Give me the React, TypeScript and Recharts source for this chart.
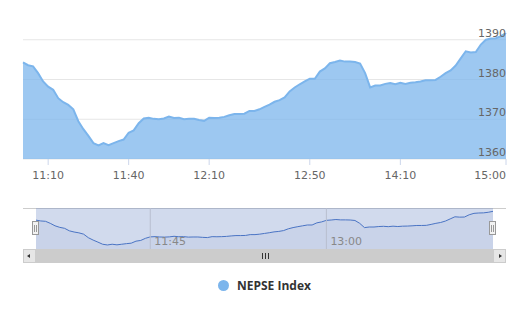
import { AreaChart, Area, XAxis, YAxis, CartesianGrid, ReferenceLine, ReferenceArea } from "recharts"

const seriesName = "NEPSE Index"

// index values, left to right (ordinal time axis)
const nepseValues = [
  1384.3, 1383.6, 1383.3, 1381.6, 1379.5, 1378.2, 1377.4, 1375.3, 1374.3, 1373.6,
  1372.5, 1369.5, 1367.5, 1365.8, 1364.0, 1363.4, 1364.0, 1363.5, 1364.0, 1364.5,
  1364.9, 1366.6, 1367.2, 1369.0, 1370.2, 1370.4, 1370.1, 1370.0, 1370.2, 1370.7,
  1370.3, 1370.4, 1370.0, 1370.1, 1370.1, 1369.8, 1369.6, 1370.4, 1370.3, 1370.4,
  1370.6, 1371.0, 1371.3, 1371.3, 1371.4, 1372.1, 1372.1, 1372.5, 1373.1, 1373.7,
  1374.4, 1374.8, 1375.5, 1377.0, 1378.0, 1378.8, 1379.5, 1380.2, 1380.2, 1382.0,
  1382.8, 1384.1, 1384.4, 1384.8, 1384.5, 1384.5, 1384.4, 1384.0, 1381.6, 1378.0,
  1378.5, 1378.5, 1378.9, 1379.1, 1378.8, 1379.2, 1378.9, 1379.2, 1379.3, 1379.5,
  1379.8, 1379.8, 1379.9, 1380.7, 1381.6, 1382.3, 1383.5, 1385.3, 1387.1, 1386.8,
  1386.9, 1388.8, 1390.0, 1390.3, 1390.4, 1390.9, 1391.7,
]

const xTickIdx = [5, 21, 37, 57, 75, 96]
const xTickLabels = ["11:10", "11:40", "12:10", "12:50", "14:10", "15:00"]
const yTicks = [1360, 1370, 1380, 1390]
const yMin = 1360
const yMax = 1391.7
const navTickIdx = [24, 61]
const navTickLabels = ["11:45", "13:00"]

const data = nepseValues.map((v, i) => ({ i, v }))
const lastIdx = nepseValues.length - 1

const axisFont = "'DejaVu Sans', sans-serif"

function XTick(props: any) {
  const { x, y, payload } = props
  const k = xTickIdx.indexOf(payload.value)
  const isLast = payload.value === lastIdx
  return (
    <text x={x} y={y + 12} textAnchor={isLast ? "end" : "middle"} fill="#666" fontSize={11} fontFamily={axisFont}>
      {xTickLabels[k]}
    </text>
  )
}

function YTick(props: any) {
  const { y, payload } = props
  return (
    <text x={506} y={y - 3} textAnchor="end" fill="#666" fontSize={11} fontFamily={axisFont}>
      {payload.value}
    </text>
  )
}

// grid only at the value ticks, no line at the plot's top edge
function gridRows({ offset }: any) {
  return yTicks.map((t) => offset.top + (offset.height * (yMax - t)) / (yMax - yMin))
}

function Handle({ left }: { left: number }) {
  return (
    <div
      style={{
        position: "absolute", left: left - 4, top: 221, width: 7, height: 14,
        background: "#f2f2f2", border: "1px solid #999", boxSizing: "border-box",
        display: "flex", justifyContent: "center", gap: 1, alignItems: "center",
      }}
    >
      <div style={{ width: 1, height: 7, background: "#999" }} />
      <div style={{ width: 1, height: 7, background: "#999" }} />
    </div>
  )
}

export default function App() {
  return (
    <div style={{ position: "absolute", left: 0, top: 0, width: 531, height: 312, background: "#fff" }}>
      {/* main chart */}
      <div style={{ position: "absolute", left: 0, top: 0 }}>
        <AreaChart width={531} height={185} data={data} margin={{ top: 33, right: 24, left: 23, bottom: 0 }}>
          <CartesianGrid vertical={false} stroke="#e6e6e6" horizontalCoordinatesGenerator={gridRows} />
          <XAxis
            dataKey="i"
            type="number"
            domain={[0, lastIdx]}
            ticks={xTickIdx}
            height={26}
            axisLine={false}
            tickLine={{ stroke: "#ccd6eb" }}
            tickSize={6}
            tick={XTick}
            interval={0}
          />
          <YAxis
            orientation="right"
            width={1}
            type="number"
            domain={[yMin, yMax]}
            allowDataOverflow
            ticks={yTicks}
            axisLine={false}
            tickLine={false}
            tick={YTick}
            interval={0}
          />
          <Area
            type="linear"
            dataKey="v"
            stroke="#7cb5ec"
            strokeWidth={2}
            fill="#7cb5ec"
            fillOpacity={0.75}
            isAnimationActive={false}
            dot={false}
            activeDot={false}
          />
        </AreaChart>
      </div>

      {/* navigator */}
      <div style={{ position: "absolute", left: 23, top: 208, width: 483, height: 1, background: "#cccccc" }} />
      <div style={{ position: "absolute", left: 0, top: 208 }}>
        <AreaChart width={531} height={41} data={data} margin={{ top: 0, right: 38, left: 36, bottom: 0 }}>
          <XAxis dataKey="i" type="number" domain={[0, lastIdx]} hide />
          <YAxis domain={[1360, 1394.5]} hide />
          <ReferenceArea x1={0} x2={lastIdx} fill="rgb(102,133,194)" fillOpacity={0.3} stroke="none" />
          {navTickIdx.map((t, k) => (
            <ReferenceLine
              key={t}
              x={t}
              stroke="#b8bfcf"
              label={{ value: navTickLabels[k], position: "insideBottomLeft", fill: "#888", fontSize: 11, fontFamily: axisFont, offset: 4 }}
            />
          ))}
          <Area
            type="linear"
            dataKey="v"
            stroke="#4a74c4"
            strokeWidth={1}
            fill="#335cad"
            fillOpacity={0.05}
            isAnimationActive={false}
            dot={false}
            activeDot={false}
          />
        </AreaChart>
      </div>
      <Handle left={36} />
      <Handle left={493} />

      {/* scrollbar */}
      <div style={{ position: "absolute", left: 23, top: 249, width: 483, height: 14, background: "#f2f2f2", border: "1px solid #e0e0e0", boxSizing: "border-box" }} />
      <div style={{ position: "absolute", left: 36, top: 249, width: 457, height: 14, background: "#cccccc" }} />
      <div style={{ position: "absolute", left: 262, top: 253, display: "flex", gap: 2 }}>
        <div style={{ width: 1, height: 6, background: "#333" }} />
        <div style={{ width: 1, height: 6, background: "#333" }} />
        <div style={{ width: 1, height: 6, background: "#333" }} />
      </div>
      <div style={{ position: "absolute", left: 23, top: 249, width: 13, height: 14, background: "#e6e6e6", border: "1px solid #cccccc", boxSizing: "border-box" }}>
        <div style={{ position: "absolute", left: 3, top: 4, width: 0, height: 0, borderTop: "2.5px solid transparent", borderBottom: "2.5px solid transparent", borderRight: "3px solid #333" }} />
      </div>
      <div style={{ position: "absolute", left: 493, top: 249, width: 13, height: 14, background: "#e6e6e6", border: "1px solid #cccccc", boxSizing: "border-box" }}>
        <div style={{ position: "absolute", left: 5, top: 4, width: 0, height: 0, borderTop: "2.5px solid transparent", borderBottom: "2.5px solid transparent", borderLeft: "3px solid #333" }} />
      </div>

      {/* legend */}
      <div style={{ position: "absolute", left: 218, top: 277, display: "flex", alignItems: "center", gap: 8 }}>
        <div style={{ width: 11, height: 11, borderRadius: "50%", background: "#7cb5ec" }} />
        <span style={{ fontFamily: "'Open Sans', sans-serif", fontWeight: 700, fontSize: 12, color: "#333" }}>{seriesName}</span>
      </div>
    </div>
  )
}
